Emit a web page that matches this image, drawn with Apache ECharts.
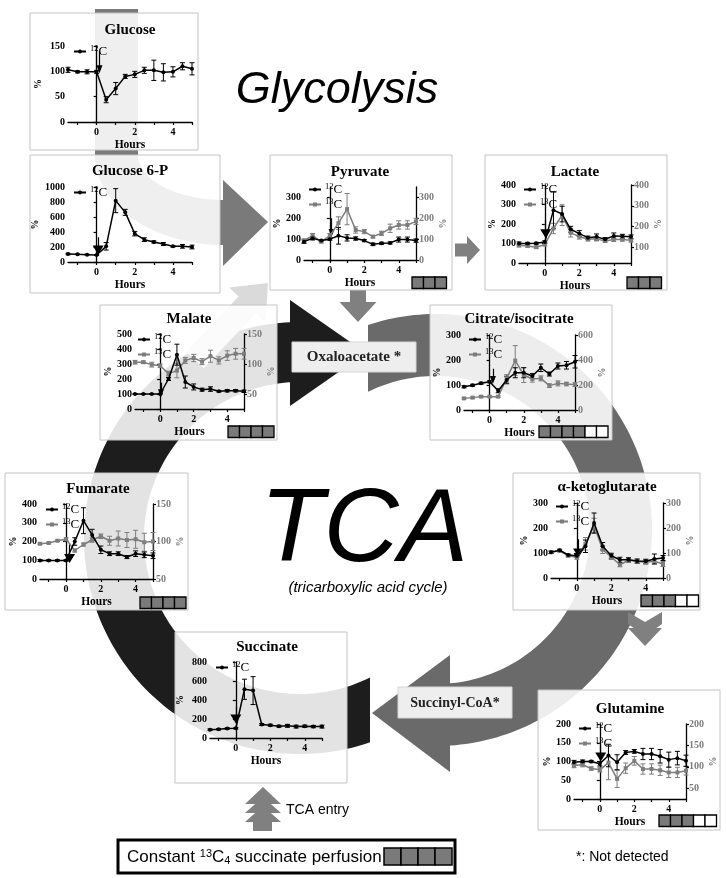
<!DOCTYPE html>
<html><head><meta charset="utf-8">
<script src="https://cdn.jsdelivr.net/npm/echarts@6/dist/echarts.min.js"></script>
<style>html,body{margin:0;padding:0;background:#fff}#c{width:727px;height:878px}</style>
</head><body><div id="c"></div>
<script>
// ---------- DATA ----------
const hours = [-1.5,-1,-0.5,0,0.5,1,1.5,2,2.5,3,3.5,4,4.5,5];
const xLabels = [0,2,4];
const xTicks = [-1,0,1,2,3,4,5];

const glucose12 = [103,99,99,99,44,66,90,94,102,102,98,99,110,105];
const glucose12Err = [5,2,4,3,6,12,4,6,6,20,17,10,7,12];

const g6p12 = [107,102,98,93,209,818,662,378,298,267,240,209,209,200];
const g6p12Err = [10,5,5,5,50,160,40,30,25,15,20,10,25,25];

const pyruvate12 = [88,104,93,100,116,106,103,93,75,80,82,98,98,93];
const pyruvate12Err = [8,8,5,5,40,15,8,5,6,5,5,12,12,8];
const pyruvate13 = [93,117,88,117,177,244,144,136,112,128,152,168,168,185];
const pyruvate13Err = [8,10,6,10,30,75,15,10,6,10,20,20,20,15];

const lactate12 = [100,100,101,108,271,251,173,151,130,134,122,139,137,134];
const lactate12Err = [8,6,5,6,95,40,15,15,8,15,8,15,10,10];
const lactate13 = [110,107,101,114,191,255,170,152,139,141,131,138,138,134];
const lactate13Err = [8,6,6,6,25,50,20,12,8,10,6,10,8,8];

const malate12 = [100,100,100,100,200,362,180,147,129,133,118,122,122,118];
const malate12Err = [3,3,3,3,10,70,40,20,10,15,5,8,8,8];
const malate13 = [103,103,99,97,84,89,106,110,104,113,106,114,117,117];
const malate13Err = [3,2,4,3,4,12,5,6,5,10,6,8,9,9];

const citrate12 = [93,99,107,113,77,120,149,149,136,169,144,176,179,193];
const citrate12Err = [4,4,4,4,8,15,20,20,10,15,8,12,15,25];
const citrate13 = [93,99,107,107,107,253,395,280,248,253,195,213,208,203];
const citrate13Err = [6,6,6,6,6,30,120,60,25,20,15,20,15,15];

const fumarate12 = [99,99,99,99,200,311,235,156,135,135,117,135,129,124];
const fumarate12Err = [5,4,4,4,20,69,30,20,10,10,8,15,15,15];
const fumarate13 = [97,98,101,103,88,96,102,107,101,104,102,103,99,100];
const fumarate13Err = [1,1,1,2,2,2,3,3,6,10,10,12,12,12];

const akg12 = [103,111,92,89,127,220,127,89,73,73,68,67,76,80];
const akg12Err = [5,4,4,5,25,40,15,10,10,8,8,8,20,10];
const akg13 = [103,109,89,83,137,209,113,84,53,71,67,63,67,56];
const akg13Err = [5,5,5,8,25,30,15,10,8,8,8,8,10,10];

const succinate12 = [88,92,99,103,513,499,142,135,124,128,120,124,120,120];
const succinate12Err = [8,8,8,8,106,147,10,10,10,15,15,12,12,15];

const glutamine12 = [98,100,100,94,116,98,124,127,120,120,114,105,109,102];
const glutamine12Err = [5,4,3,6,30,20,5,5,15,15,18,20,18,15];
const glutamine13 = [103,105,96,93,110,72,97,114,95,95,92,87,87,91];
const glutamine13Err = [5,5,4,5,40,20,12,10,12,12,12,12,12,10];

// injection arrows: [hour, from value, to value]
const glucoseArrow = [0.15,140,104];
const g6pArrow = [0.08,330,160];
const pyruvateArrow = [0.1,200,130];
const lactateArrow = [0.05,220,150];
const malateArrow = [0.05,175,105];
const citrateArrow = [0.19,165,120];
const fumarateArrow = [0.2,185,110];
const akgArrow = [0.1,155,100];
const succinateArrow = [0.0,330,200];
const glutamineArrow = [0.05,145,112];

// ---------- PANELS ----------
const panels = [
 {name:'Glucose', s12:glucose12, e12:glucose12Err, arrow:glucoseArrow, yL:[0,150,[0,50,100,150]], head:'thin',
  box:[30,13,168,137], grid:[68,46,124,76], title:[130,30], legend:[73,44], nameGapL:25},
 {name:'Glucose 6-P', s12:g6p12, e12:g6p12Err, arrow:g6pArrow, yL:[0,1000,[0,200,400,600,800,1000]], head:'big',
  box:[30,155,190,138], grid:[68,187,124,75], title:[130,171], legend:[73,185], nameGapL:28},
 {name:'Pyruvate', s12:pyruvate12, e12:pyruvate12Err, s13:pyruvate13, e13:pyruvate13Err, arrow:pyruvateArrow,
  yL:[0,350,[0,100,200,300]], yR:[0,350,[0,100,200,300]], head:'thin',
  box:[270,155,182,135], grid:[304,187,112,73], title:[360,172], legend:[308,182], sq:[412,277,3,0], nameGapL:22},
 {name:'Lactate', s12:lactate12, e12:lactate12Err, s13:lactate13, e13:lactate13Err, arrow:lactateArrow,
  yL:[0,400,[0,100,200,300,400]], yR:[25,400,[100,200,300,400]], head:'big',
  box:[485,155,182,135], grid:[519,185,112,78], title:[575,172], legend:[523,182], sq:[627,277,3,0], nameGapL:22},
 {name:'Malate', s12:malate12, e12:malate12Err, s13:malate13, e13:malate13Err, arrow:malateArrow,
  yL:[0,500,[0,100,200,300,400,500]], yR:[25,150,[50,100,150]], head:'thin',
  box:[100,305,177,135], grid:[135,334,109,75], title:[189,319], legend:[137,332], sq:[228,426,4,0], nameGapL:22},
 {name:'Citrate/isocitrate', s12:citrate12, e12:citrate12Err, s13:citrate13, e13:citrate13Err, arrow:citrateArrow,
  yL:[0,300,[0,100,200,300]], yR:[0,600,[0,200,400,600]], head:'thin',
  box:[430,305,182,135], grid:[464,335,111,75], title:[519,319], legend:[468,332], sq:[539,426,4,2], nameGapL:22},
 {name:'Fumarate', s12:fumarate12, e12:fumarate12Err, s13:fumarate13, e13:fumarate13Err, arrow:fumarateArrow,
  yL:[0,400,[0,100,200,300,400]], yR:[50,150,[50,100,150]], head:'big',
  box:[5,473,183,137], grid:[40,504,113,75], title:[98,489], legend:[45,502], sq:[140,597,4,0], nameGapL:22},
 {name:'\u03b1-ketoglutarate', s12:akg12, e12:akg12Err, s13:akg13, e13:akg13Err, arrow:akgArrow,
  yL:[0,300,[0,100,200,300]], yR:[0,300,[0,100,200,300]], head:'big',
  box:[513,473,187,137], grid:[551,503,112,75], title:[607,487], legend:[555,499], sq:[641,595,3,2], nameGapL:22},
 {name:'Succinate', s12:succinate12, e12:succinate12Err, arrow:succinateArrow, yL:[0,800,[0,200,400,600,800]], head:'big',
  box:[175,632,172,151], grid:[210,662,112,76], title:[267,647], legend:[215,660], nameGapL:25},
 {name:'Glutamine', s12:glutamine12, e12:glutamine12Err, s13:glutamine13, e13:glutamine13Err, arrow:glutamineArrow,
  yL:[0,200,[0,50,100,150,200]], yR:[25,200,[50,100,150,200]], head:'big',
  box:[538,690,182,140], grid:[574,724,112,75], title:[630,709], legend:[578,721], sq:[659,815,3,2], nameGapL:22}
];

const SERIF = 'Liberation Serif';
const G13 = '#7d7d7d';

function errSeries(xi, yi, vals, errs, color) {
  return {
    type:'custom', xAxisIndex:xi, yAxisIndex:yi, silent:true, z:11, clip:false,
    encode:{x:0, y:[1,2]},
    data: hours.map((h,i)=>[h, vals[i]-errs[i], vals[i]+errs[i]]),
    renderItem:(params, api)=>{
      const x = api.value(0);
      const p1 = api.coord([x, api.value(1)]);
      const p2 = api.coord([x, api.value(2)]);
      const w = 2.5, st = {stroke:color, lineWidth:1};
      return {type:'group', children:[
        {type:'line', shape:{x1:p1[0],y1:p1[1],x2:p2[0],y2:p2[1]}, style:st},
        {type:'line', shape:{x1:p1[0]-w,y1:p1[1],x2:p1[0]+w,y2:p1[1]}, style:st},
        {type:'line', shape:{x1:p2[0]-w,y1:p2[1],x2:p2[0]+w,y2:p2[1]}, style:st}
      ]};
    }
  };
}

const grid=[], xAxis=[], yAxis=[], series=[], legend=[], gfx=[];
const axisFont = {fontFamily:SERIF, fontWeight:'bold', fontSize:10, color:'#000', formatter: v => String(v)};

// ---------- BACKGROUND SHAPES ----------
function ellPts(cx, cy, rx, ry, a0, a1, n) {
  const pts=[];
  for (let i=0;i<=n;i++){ const a=(a0+(a1-a0)*i/n)*Math.PI/180; pts.push([cx+rx*Math.cos(a), cy+ry*Math.sin(a)]); }
  return pts;
}
function angX(c, r, x, lower) { const v = Math.acos((x-c[0])/r)*180/Math.PI; return lower ? v : 360 - v; }
function arcBand(c, ro, ri, x0, low0, x1, low1, wrap) {
  let ao0 = angX(c,ro,x0,low0), ao1 = angX(c,ro,x1,low1), ai0 = angX(c,ri,x0,low0), ai1 = angX(c,ri,x1,low1);
  if (wrap) { ao1 += 360; ai1 += 360; }
  return ellPts(c[0],c[1],ro,ro,ao0,ao1,140).concat(ellPts(c[0],c[1],ri,ri,ai1,ai0,140));
}
const C1 = [300,538], C2 = [436,530];
// black arc: succinate (bottom) -> left -> oxaloacetate (top)
gfx.push({type:'polygon', z:0, shape:{points:arcBand(C1,216,156,370,true,290,false,false)}, style:{fill:'#1d1d1d'}});
gfx.push({type:'polygon', z:0, shape:{points:[[290,300],[366,353],[290,406]]}, style:{fill:'#1d1d1d'}});
// gray arc: oxaloacetate (top) -> right -> succinyl-CoA (bottom)
gfx.push({type:'polygon', z:0, shape:{points:arcBand(C2,216,154,368,false,450,true,true)}, style:{fill:'#6a6a6a'}});
gfx.push({type:'polygon', z:0, shape:{points:[[450,655],[372,713],[450,772]]}, style:{fill:'#6a6a6a'}});

(function(){
  const outer = ellPts(224,155,129,90,180,90,40);
  const inner = ellPts(224,155,86,45,90,180,40);
  const pts = [[95,9]].concat(outer).concat(inner).concat([[138,9]]);
  gfx.push({type:'polygon', z:0, shape:{points:pts}, style:{fill:'#7a7a7a'}});
  gfx.push({type:'polygon', z:0, shape:{points:[[223,180],[268,222],[223,266]]}, style:{fill:'#7a7a7a'}});
})();

function arrowPoly(x0,y0,x1,y1,bw,hw,hl){
  const dx=x1-x0, dy=y1-y0, L=Math.hypot(dx,dy), ux=dx/L, uy=dy/L, px=-uy, py=ux;
  const bx=x1-ux*hl, by=y1-uy*hl;
  return [[x0+px*bw/2,y0+py*bw/2],[bx+px*bw/2,by+py*bw/2],[bx+px*hw/2,by+py*hw/2],[x1,y1],
          [bx-px*hw/2,by-py*hw/2],[bx-px*bw/2,by-py*bw/2],[x0-px*bw/2,y0-py*bw/2]];
}
gfx.push({type:'polygon', z:0, shape:{points:arrowPoly(195,360,268,283,24,50,30)}, style:{fill:'#dadada'}});
gfx.push({type:'polygon', z:0, shape:{points:arrowPoly(455,250,480,250,13,28,13)}, style:{fill:'#808080'}});
gfx.push({type:'polygon', z:0, shape:{points:arrowPoly(358,290,358,322,16,37,20)}, style:{fill:'#808080'}});
gfx.push({type:'polygon', z:0, shape:{points:[[628,612],[645,622],[662,612],[662,624],[645,636],[628,624]]}, style:{fill:'#808080'}});
gfx.push({type:'polygon', z:0, shape:{points:[[628,628],[662,628],[645,646]]}, style:{fill:'#808080'}});
gfx.push({type:'rect', z:0, shape:{x:253,y:818,width:19,height:13}, style:{fill:'#808080'}});
[[806,822],[797,813],[787,804]].forEach(([a,b])=>{
  gfx.push({type:'polygon', z:0, shape:{points:[[263,a],[281,b],[245,b]]}, style:{fill:'#808080'}});
});

// ---------- PANELS / CHARTS ----------
panels.forEach((p, k)=>{
  const [bx,by,bw,bh] = p.box;
  gfx.push({type:'rect', z:1, shape:{x:bx,y:by,width:bw,height:bh}, style:{fill:'rgba(255,255,255,0.88)', stroke:'#c4c4c4', lineWidth:1}});
  gfx.push({type:'text', z:10, x:p.title[0], y:p.title[1], style:{text:p.name, font:'bold 15px "Liberation Serif"', fill:'#000', textAlign:'center', textVerticalAlign:'middle'}});
  if (p.sq) {
    const [sx,sy,ng,nw] = p.sq, s=11.5;
    for (let i=0;i<ng+nw;i++) gfx.push({type:'rect', z:10, shape:{x:sx+i*s,y:sy,width:s,height:s}, style:{fill:i<ng?'#7a7a7a':'#fff', stroke:'#000', lineWidth:1.3}});
  }
  const [gl,gt,gw,gh] = p.grid;
  grid.push({left:gl, top:gt, width:gw, height:gh, containLabel:false});
  const xi = xAxis.length;
  xAxis.push({gridIndex:k, type:'value', min:-1.5, max:5, z:10,
    axisLine:{show:true, onZero:false, lineStyle:{color:'#000', width:1.3}},
    axisTick:{show:true, customValues:xTicks, length:3, lineStyle:{color:'#000', width:1.2}},
    axisLabel:Object.assign({customValues:xLabels, margin:5}, axisFont),
    splitLine:{show:false},
    name:'Hours', nameLocation:'middle', nameGap:17,
    nameTextStyle:{fontFamily:SERIF, fontWeight:'bold', fontSize:11.5, color:'#000'}});
  const yl = yAxis.length;
  yAxis.push({gridIndex:k, type:'value', min:p.yL[0], max:p.yL[1], position:'left', z:10,
    axisLine:{show:true, lineStyle:{color:'#000', width:1.3}},
    axisTick:{show:true, customValues:p.yL[2], length:3, lineStyle:{color:'#000', width:1.2}},
    axisLabel:Object.assign({customValues:p.yL[2], margin:3}, axisFont),
    splitLine:{show:false},
    name:'%', nameLocation:'middle', nameGap:p.nameGapL, nameRotate:90,
    nameTextStyle:{fontFamily:SERIF, fontWeight:'bold', fontSize:10, color:'#000'}});
  let yr = null;
  if (p.yR) {
    yr = yAxis.length;
    yAxis.push({gridIndex:k, type:'value', min:p.yR[0], max:p.yR[1], position:'right', z:10,
      axisLine:{show:true, lineStyle:{color:'#000', width:1.3}},
      axisTick:{show:true, customValues:p.yR[2], length:3, lineStyle:{color:'#000', width:1.2}},
      axisLabel:Object.assign({}, axisFont, {customValues:p.yR[2], margin:3, color:G13}),
      splitLine:{show:false},
      name:'%', nameLocation:'middle', nameGap:22, nameRotate:90,
      nameTextStyle:{fontFamily:SERIF, fontWeight:'bold', fontSize:10, color:G13}});
  }
  const big = p.head === 'big';
  const n12 = p.name+' 12', n13 = p.name+' 13';
  if (p.s13) {
    series.push(errSeries(xi, yr, p.s13, p.e13, G13));
    series.push({type:'line', name:n13, xAxisIndex:xi, yAxisIndex:yr, z:12,
      data:hours.map((h,i)=>[h,p.s13[i]]), symbol:'rect', symbolSize:4, showSymbol:true,
      lineStyle:{color:G13, width:1.5}, itemStyle:{color:G13}, animation:false});
  }
  series.push(errSeries(xi, yl, p.s12, p.e12, '#000'));
  series.push({type:'line', name:n12, xAxisIndex:xi, yAxisIndex:yl, z:13,
    data:hours.map((h,i)=>[h,p.s12[i]]), symbol:'circle', symbolSize:4, showSymbol:true,
    lineStyle:{color:'#000', width:1.5}, itemStyle:{color:'#000'}, animation:false,
    markLine:{silent:true, animation:false, symbol:['none','triangle'], symbolSize: big?[11,9]:[6,8],
      lineStyle:{color:'#000', width:1.2, type:'solid'}, label:{show:false},
      data:[[{coord:[p.arrow[0],p.arrow[1]]},{coord:[p.arrow[0],p.arrow[2]]}]]}});
  legend.push({left:p.legend[0], top:p.legend[1], orient:'vertical', padding:0, itemGap:0,
    itemWidth:12, itemHeight:5, selectedMode:false, z:12,
    data: p.s13 ? [n12, n13] : [n12],
    formatter: nm => nm.endsWith('13') ? '{s|13}{c|C}' : '{s|12}{c|C}',
    textStyle:{fontFamily:SERIF, color:'#000', padding:[0,0,0,-1], lineHeight:11,
      rich:{s:{fontFamily:SERIF, fontSize:8.5, padding:[0,0,6,0], lineHeight:11},
            c:{fontFamily:SERIF, fontSize:13, lineHeight:11}}}});
});

// ---------- LABEL BOXES & TEXT ----------
gfx.push({type:'rect', z:5, shape:{x:292,y:342,width:124,height:30}, style:{fill:'#eeeeee', stroke:'#d6d6d6', lineWidth:1}});
gfx.push({type:'text', z:6, x:354, y:357, style:{text:'Oxaloacetate *', font:'bold 15px "Liberation Serif"', fill:'#222', textAlign:'center', textVerticalAlign:'middle'}});
gfx.push({type:'rect', z:5, shape:{x:398,y:687,width:114,height:31}, style:{fill:'#eeeeee', stroke:'#d6d6d6', lineWidth:1}});
gfx.push({type:'text', z:6, x:455, y:703, style:{text:'Succinyl-CoA*', font:'bold 14px "Liberation Serif"', fill:'#222', textAlign:'center', textVerticalAlign:'middle'}});
gfx.push({type:'text', z:6, x:337, y:90, style:{text:'Glycolysis', font:'italic 45px "Liberation Sans"', fill:'#000', textAlign:'center', textVerticalAlign:'middle'}});
gfx.push({type:'text', z:6, x:364, y:532, style:{text:'TCA', font:'italic 104px "Liberation Sans"', fill:'#000', textAlign:'center', textVerticalAlign:'middle'}});
gfx.push({type:'text', z:6, x:368, y:588, style:{text:'(tricarboxylic acid cycle)', font:'italic 15px "Liberation Sans"', fill:'#000', textAlign:'center', textVerticalAlign:'middle'}});
gfx.push({type:'text', z:6, x:286, y:810, style:{text:'TCA entry', font:'14px "Liberation Sans"', fill:'#000', textAlign:'left', textVerticalAlign:'middle'}});
gfx.push({type:'rect', z:5, shape:{x:118,y:840,width:337,height:33}, style:{fill:'#fff', stroke:'#000', lineWidth:3}});
gfx.push({type:'text', z:6, x:127, y:857, style:{text:'{a|Constant }{s|13}{a|C}{b|4}{a| succinate perfusion}', rich:{
  a:{font:'17px "Liberation Sans"', fill:'#000'},
  s:{font:'11px "Liberation Sans"', fill:'#000', padding:[0,0,7,0]},
  b:{font:'11px "Liberation Sans"', fill:'#000', padding:[7,0,0,0]}}, textVerticalAlign:'middle'}});
for (let i=0;i<4;i++) gfx.push({type:'rect', z:6, shape:{x:384+i*17,y:848,width:17,height:17}, style:{fill:'#7a7a7a', stroke:'#000', lineWidth:1.5}});
gfx.push({type:'text', z:6, x:576, y:857, style:{text:'*: Not detected', font:'14px "Liberation Sans"', fill:'#000', textAlign:'left', textVerticalAlign:'middle'}});

const chart = echarts.init(document.getElementById('c'));
chart.setOption({animation:false, grid, xAxis, yAxis, series, legend, graphic:{elements:gfx}});
</script></body></html>
